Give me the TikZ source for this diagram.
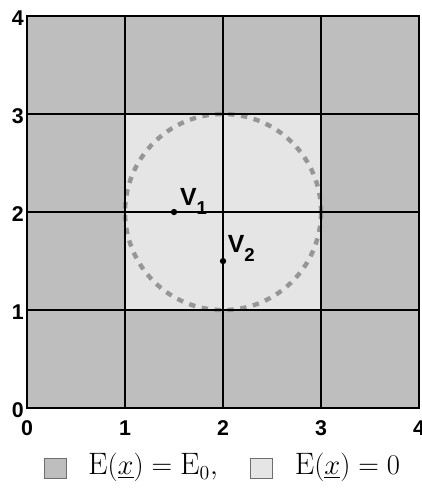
\documentclass[tikz,border=0pt]{standalone}
\usepackage{fontspec}
\setsansfont{Liberation Sans}
\definecolor{cellA}{RGB}{190,190,190}
\definecolor{cellB}{RGB}{229,229,229}
\definecolor{ringgray}{RGB}{150,150,150}
\definecolor{boxedge}{RGB}{110,110,110}
\tikzset{
  gridline/.style={line width=1.5pt, black},
  axlab/.style={inner sep=0pt, font=\sffamily\bfseries\fontsize{15.5}{15.5}\selectfont},
  vlab/.style={inner sep=0pt, anchor=base west, font=\sffamily\bfseries\fontsize{18}{18}\selectfont},
  dotpt/.style={circle, fill=black, inner sep=0pt, minimum size=4.6pt},
  legbox/.style={draw=boxedge, line width=0.5pt, minimum width=0.224*2.5cm, minimum height=0.204*2.5cm, inner sep=0pt},
  legtext/.style={inner sep=0pt, anchor=base west, font=\fontsize{22.5}{22.5}\selectfont},
}
\newcommand{\subn}[1]{\raisebox{-0.36em}{\fontsize{13.5}{13.5}\selectfont #1}}
\begin{document}
\begin{tikzpicture}[x=2.5cm,y=2.5cm]
\useasboundingbox (-0.275,-0.825) rectangle (4.022,4.163);
% cells
\fill[cellA] (0,0) rectangle (4,4);
\fill[cellB] (1,1) rectangle (3,3);
% dashed circle
\draw[ringgray, line width=3.2pt, dash pattern=on 4.6pt off 4.8pt] (2,2) circle (1);
% grid
\foreach \k in {1,2,3} {
  \draw[gridline] (\k,0) -- (\k,4);
  \draw[gridline] (0,\k) -- (4,\k);
}
\draw[gridline, line width=1.8pt] (0,0) rectangle (4,4);
% axis labels
\foreach \k in {0,1,2,3,4} {
  \node[axlab, anchor=east] (yl\k) at (-0.03,\k-0.02) {\k};
  \node[axlab, anchor=north] (xl\k) at (\k,-0.122) {\k};
}
% points
\node[dotpt] (v1) at (1.5,2) {};
\node[dotpt] (v2) at (2,1.5) {};
\node[vlab] (v1lab) at (1.56,2.067) {V\subn{1}};
\node[vlab] (v2lab) at (2.047,1.589) {V\subn{2}};
% legend
\node[legbox, fill=cellA] (leg1) at (0.285,-0.611) {};
\node[legtext] (legt1) at (0.621,-0.682) {$\mathrm{E}(\underline{x}) = \mathrm{E}_0,$};
\node[legbox, fill=cellB] (leg2) at (2.393,-0.611) {};
\node[legtext] (legt2) at (2.729,-0.682) {$\mathrm{E}(\underline{x}) = 0$};
\end{tikzpicture}
\end{document}
